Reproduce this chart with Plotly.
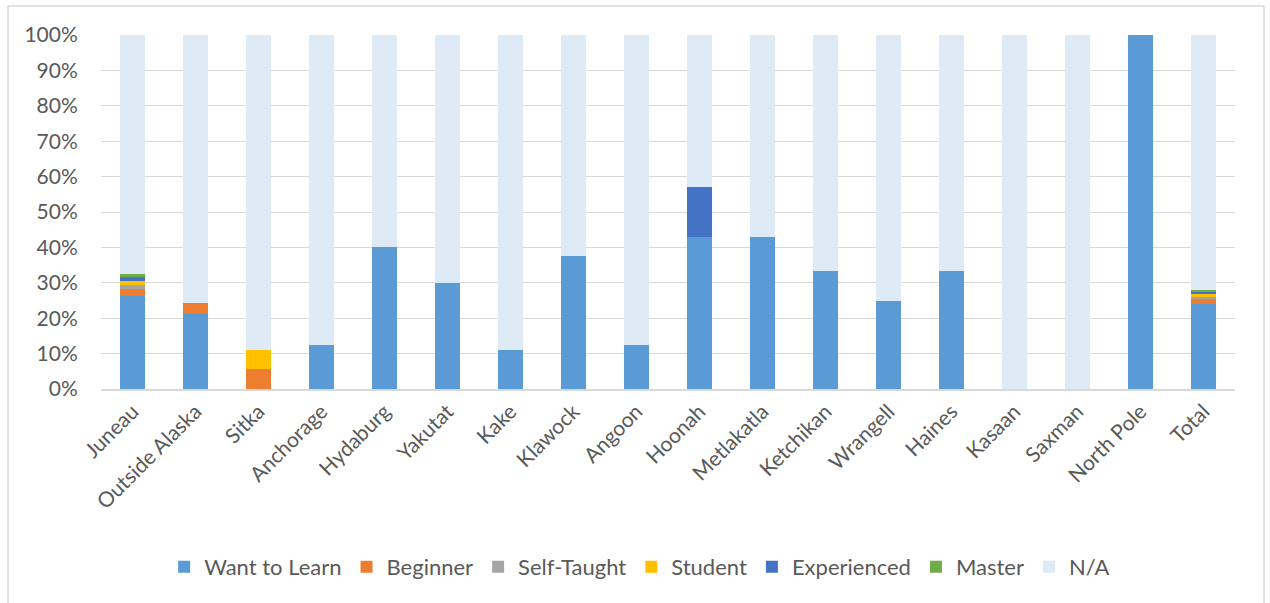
import plotly.graph_objects as go

places = ["Juneau", "Outside Alaska", "Sitka", "Anchorage", "Hydaburg", "Yakutat",
          "Kake", "Klawock", "Angoon", "Hoonah", "Metlakatla", "Ketchikan",
          "Wrangell", "Haines", "Kasaan", "Saxman", "North Pole", "Total"]

want_to_learn = [26.3, 21.2, 0, 12.5, 40.0, 30.0, 11.1, 37.5, 12.5, 42.86, 42.86, 33.3, 25.0, 33.3, 0, 0, 100.0, 24.0]
beginner      = [1.9, 3.0, 5.56, 0, 0, 0, 0, 0, 0, 0, 0, 0, 0, 0, 0, 0, 0, 1.6]
self_taught   = [1.1, 0, 0, 0, 0, 0, 0, 0, 0, 0, 0, 0, 0, 0, 0, 0, 0, 0.5]
student       = [1.1, 0, 5.56, 0, 0, 0, 0, 0, 0, 0, 0, 0, 0, 0, 0, 0, 0, 0.8]
experienced   = [1.1, 0, 0, 0, 0, 0, 0, 0, 0, 14.29, 0, 0, 0, 0, 0, 0, 0, 0.5]
master        = [1.1, 0, 0, 0, 0, 0, 0, 0, 0, 0, 0, 0, 0, 0, 0, 0, 0, 0.6]

parts = [want_to_learn, beginner, self_taught, student, experienced, master]
not_applicable = [round(100 - sum(p[i] for p in parts), 2) for i in range(len(places))]

series = [
    ("Want to Learn", want_to_learn, "#5b9bd5"),
    ("Beginner", beginner, "#ed7d31"),
    ("Self-Taught", self_taught, "#a5a5a5"),
    ("Student", student, "#ffc000"),
    ("Experienced", experienced, "#4472c4"),
    ("Master", master, "#70ad47"),
    ("N/A", not_applicable, "#deebf7"),
]

fig = go.Figure()
for name, vals, color in series:
    fig.add_trace(go.Bar(
        x=places, y=[v / 100 for v in vals], name=name,
        marker=dict(color=color, line=dict(width=0)),
        hovertemplate="%{x}: %{y:.1%}<extra>" + name + "</extra>",
    ))

font_family = "Lato, sans-serif"

fig.update_layout(
    barmode="stack",
    bargap=0.6,
    width=1270, height=603,
    margin=dict(l=101, r=35, t=35, b=214, autoexpand=False),
    paper_bgcolor="white",
    plot_bgcolor="white",
    font=dict(family=font_family, color="#595959", size=21),
    legend=dict(
        orientation="h", x=0.475, xanchor="center", y=-0.503, yanchor="middle",
        font=dict(size=22, color="#595959"), traceorder="normal",
        itemwidth=30,
    ),
    yaxis=dict(
        range=[0, 1], tickformat=".0%", dtick=0.1,
        showgrid=True, gridcolor="#d9d9d9", gridwidth=1,
        zeroline=False, showline=False, ticks="outside", ticklen=18,
        tickcolor="rgba(0,0,0,0)",
        tickfont=dict(size=21, color="#595959"), automargin=False,
    ),
    xaxis=dict(
        tickangle=-45, showline=True, linecolor="#d9d9d9", linewidth=2,
        ticks="", tickfont=dict(size=21, color="#595959"), automargin=False,
    ),
    shapes=[dict(type="rect", xref="paper", yref="paper",
                 x0=-0.082, x1=1.0256, y0=-0.7, y1=1.082,
                 line=dict(color="#d9d9d9", width=1.5))],
)

fig.write_html("out.html")
